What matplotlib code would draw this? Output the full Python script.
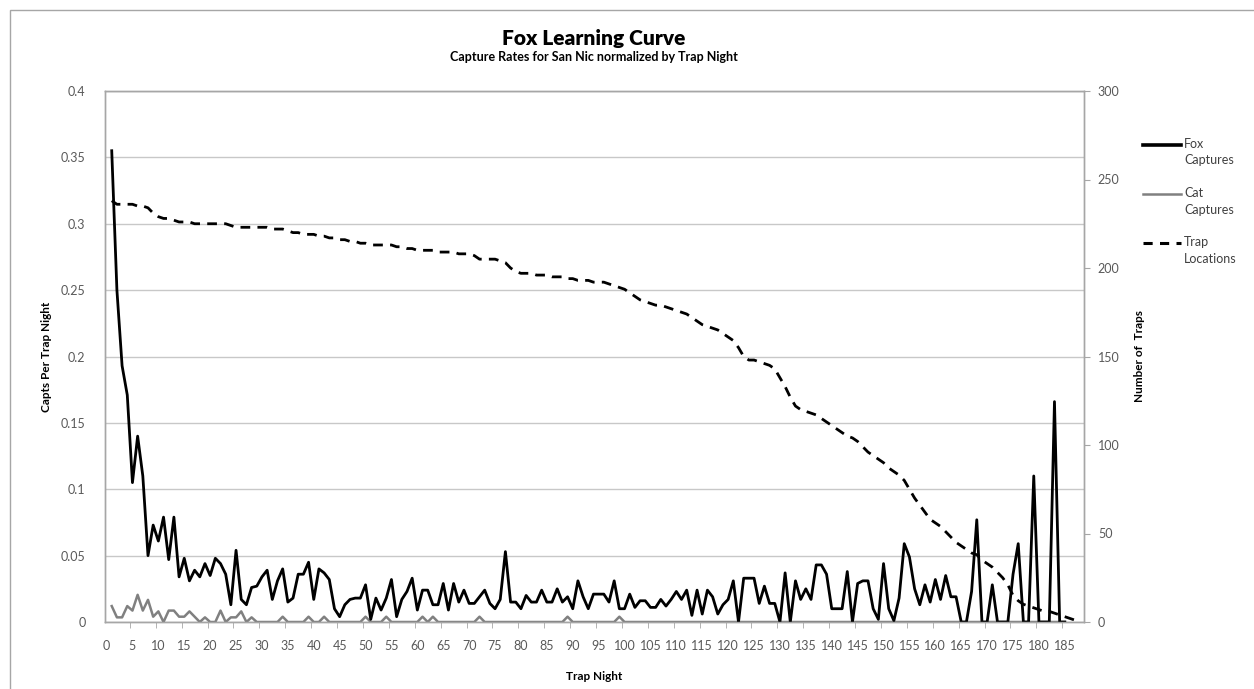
import matplotlib
matplotlib.use('Agg')
import matplotlib.pyplot as plt
from matplotlib.lines import Line2D
from matplotlib.patches import Rectangle

plt.rcParams['font.family'] = ['Lato', 'DejaVu Sans']

# per-night values
fox_captures = [
    0.355, 0.250, 0.193, 0.171, 0.105, 0.140, 0.110, 0.050, 0.073, 0.061,
    0.079, 0.047, 0.079, 0.034, 0.048, 0.031, 0.039, 0.034, 0.044, 0.035,
    0.048, 0.044, 0.036, 0.013, 0.054, 0.017, 0.013, 0.026, 0.027, 0.034,
    0.039, 0.017, 0.031, 0.040, 0.015, 0.018, 0.036, 0.036, 0.045, 0.017,
    0.040, 0.037, 0.032, 0.010, 0.004, 0.013, 0.017, 0.018, 0.018, 0.028,
    0.002, 0.018, 0.009, 0.018, 0.032, 0.004, 0.017, 0.023, 0.033, 0.009,
    0.024, 0.024, 0.013, 0.013, 0.029, 0.009, 0.029, 0.015, 0.024, 0.014,
    0.014, 0.019, 0.024, 0.014, 0.010, 0.017, 0.053, 0.015, 0.015, 0.010,
    0.020, 0.015, 0.015, 0.024, 0.015, 0.015, 0.025, 0.015, 0.019, 0.010,
    0.031, 0.019, 0.010, 0.021, 0.021, 0.021, 0.015, 0.031, 0.010, 0.010,
    0.021, 0.011, 0.016, 0.016, 0.011, 0.011, 0.017, 0.012, 0.017, 0.023,
    0.017, 0.024, 0.005, 0.024, 0.006, 0.024, 0.019, 0.006, 0.013, 0.017,
    0.031, 0.000, 0.033, 0.033, 0.033, 0.014, 0.027, 0.014, 0.014, 0.000,
    0.037, 0.000, 0.031, 0.017, 0.025, 0.017, 0.043, 0.043, 0.036, 0.010,
    0.010, 0.010, 0.038, 0.000, 0.029, 0.031, 0.031, 0.010, 0.002, 0.044,
    0.010, 0.001, 0.018, 0.059, 0.049, 0.025, 0.013, 0.028, 0.015, 0.032,
    0.017, 0.035, 0.019, 0.019, 0.000, 0.000, 0.023, 0.077, 0.000, 0.000,
    0.028, 0.000, 0.000, 0.000, 0.036, 0.059, 0.000, 0.000, 0.110, 0.000,
    0.000, 0.000, 0.166, 0.000, 0.000,
]

cat_captures = [
    0.012, 0.0035, 0.0035, 0.012, 0.0086, 0.0205, 0.0086, 0.0167, 0.004, 0.008,
    0, 0.0086, 0.0086, 0.004, 0.004, 0.008, 0.004, 0, 0.0035, 0,
    0, 0.0086, 0, 0.0035, 0.0035, 0.008, 0, 0.0035, 0, 0,
    0, 0, 0, 0.004, 0, 0, 0, 0, 0.004, 0,
    0, 0.004, 0, 0, 0, 0, 0, 0, 0, 0.004,
    0, 0, 0, 0.004, 0, 0, 0, 0, 0, 0,
    0.004, 0, 0.004, 0, 0, 0, 0, 0, 0, 0,
    0, 0.004, 0, 0, 0, 0, 0, 0, 0, 0,
    0, 0, 0, 0, 0, 0, 0, 0, 0.004, 0,
    0, 0, 0, 0, 0, 0, 0, 0, 0.004, 0,
    0, 0, 0, 0, 0, 0, 0, 0, 0, 0,
    0, 0, 0, 0, 0, 0, 0, 0, 0, 0,
    0, 0, 0, 0, 0, 0, 0, 0, 0, 0,
    0, 0, 0, 0, 0, 0, 0, 0, 0, 0,
    0, 0, 0, 0, 0, 0, 0, 0, 0, 0,
    0, 0, 0, 0, 0, 0, 0, 0, 0, 0,
    0, 0, 0, 0, 0, 0, 0, 0, 0, 0,
    0, 0, 0, 0, 0, 0, 0, 0, 0, 0,
    0, 0, 0, 0, 0,
]

trap_locations = [
    238, 236, 236, 236, 236, 235, 235, 234, 231, 229,
    228, 228, 227, 226, 226, 226, 225, 225, 225, 225,
    225, 225, 225, 224, 223, 223, 223, 223, 223, 223,
    223, 222, 222, 222, 221, 220, 220, 219, 219, 219,
    218, 218, 217, 217, 216, 216, 215, 215, 214, 214,
    213, 213, 213, 213, 213, 212, 212, 211, 211, 210,
    210, 210, 210, 209, 209, 209, 209, 208, 208, 208,
    207, 205, 205, 205, 205, 204, 203, 200, 198, 197,
    197, 197, 196, 196, 196, 195, 195, 195, 194, 194,
    193, 193, 193, 192, 192, 192, 191, 190, 189, 188,
    186, 184, 182, 181, 180, 179, 179, 178, 177, 176,
    175, 174, 172, 170, 168, 167, 166, 165, 163, 161,
    159, 155, 150, 148, 148, 147, 146, 145, 143, 138,
    133, 127, 122, 120, 119, 118, 117, 115, 113, 111,
    109, 107, 105, 104, 102, 99, 96, 94, 92, 90,
    87, 85, 83, 80, 75, 70, 66, 62, 58, 56,
    54, 51, 48, 45, 43, 41, 39, 38, 35, 33,
    31, 28, 25, 21, 15, 12, 10, 9, 8, 7,
    6, 6, 5, 4, 3, 2, 1,
]

nights_fox = list(range(1, len(fox_captures) + 1))
nights_cat = list(range(1, len(cat_captures) + 1))
nights_trap = list(range(1, len(trap_locations) + 1))

W, H = 1254, 689
fig = plt.figure(figsize=(W / 100, H / 100), dpi=100)
ax = fig.add_axes([105 / W, 1 - 622 / H, (1084 - 105) / W, (622 - 91) / H])
ax2 = ax.twinx()

tick_col = '#595959'
grid_col = '#c8c8c8'
border_col = '#a6a6a6'

ax.plot(nights_cat, cat_captures, color='#808080', lw=1.8, zorder=3)
ax.plot(nights_fox, fox_captures, color='black', lw=2.0, zorder=4)
ax2.plot(nights_trap, trap_locations, color='black', lw=2.0, dashes=(3.5, 2.6))

ax.set_xlim(-0.3, 188.7)
ax.set_ylim(0, 0.4)
ax2.set_ylim(0, 300)

ax.set_yticks([i * 0.05 for i in range(9)])
ax.set_yticklabels(['0', '0.05', '0.1', '0.15', '0.2', '0.25', '0.3', '0.35', '0.4'])
ax2.set_yticks(range(0, 301, 50))
ax.set_xticks(range(0, 186, 5))
ax.set_xticks([4.5 + 5 * i for i in range(37)], minor=True)

ax.grid(axis='y', color=grid_col, lw=1.0)
ax.set_axisbelow(True)

ax.tick_params(axis='y', length=0, pad=14, labelsize=9, labelcolor=tick_col)
ax.tick_params(axis='x', which='major', length=0, pad=13, labelsize=9, labelcolor=tick_col)
ax.tick_params(axis='x', which='minor', length=4, color=border_col, direction='out')
ax2.tick_params(axis='y', length=4, color=border_col, pad=6, labelsize=9, labelcolor=tick_col)

for a in (ax, ax2):
    for s in a.spines.values():
        s.set_color(border_col)
        s.set_linewidth(1.0)

ax.set_ylabel('Capts Per Trap Night', fontsize=8.5, fontweight='bold', labelpad=6)
ax2.set_ylabel('Number of  Traps', fontsize=8.5, fontweight='bold', labelpad=10)
ax.set_xlabel('Trap Night', fontsize=8.5, fontweight='bold', labelpad=14)

fig.text(594 / W, 1 - 38 / H, 'Fox Learning Curve', ha='center', va='center',
         fontsize=15, fontweight='heavy')
fig.text(594 / W, 1 - 57 / H, 'Capture Rates for San Nic normalized by Trap Night',
         ha='center', va='center', fontsize=9, fontweight='bold')

# legend (line sample aligned with the first text line, as in the original)
legend_items = [('Fox\nCaptures', dict(color='black', lw=2.6)),
                ('Cat\nCaptures', dict(color='#808080', lw=1.8)),
                ('Trap\nLocations', dict(color='black', lw=2.2, dashes=(3.0, 2.4)))]
for i, (label, style) in enumerate(legend_items):
    yy = 1 - (145 + 49 * i) / H
    fig.add_artist(Line2D([1143 / W, 1181 / W], [yy, yy], **style))
    fig.text(1184 / W, yy + 7 / H, label, ha='left', va='top', fontsize=9,
             color='#404040', linespacing=1.45)

# chart area border
fig.add_artist(Rectangle((10 / W, -0.01), 1.1, 1 - 10 / H + 0.01,
                         fill=False, edgecolor=border_col, lw=1.0))

fig.savefig('out.png', dpi=100)
